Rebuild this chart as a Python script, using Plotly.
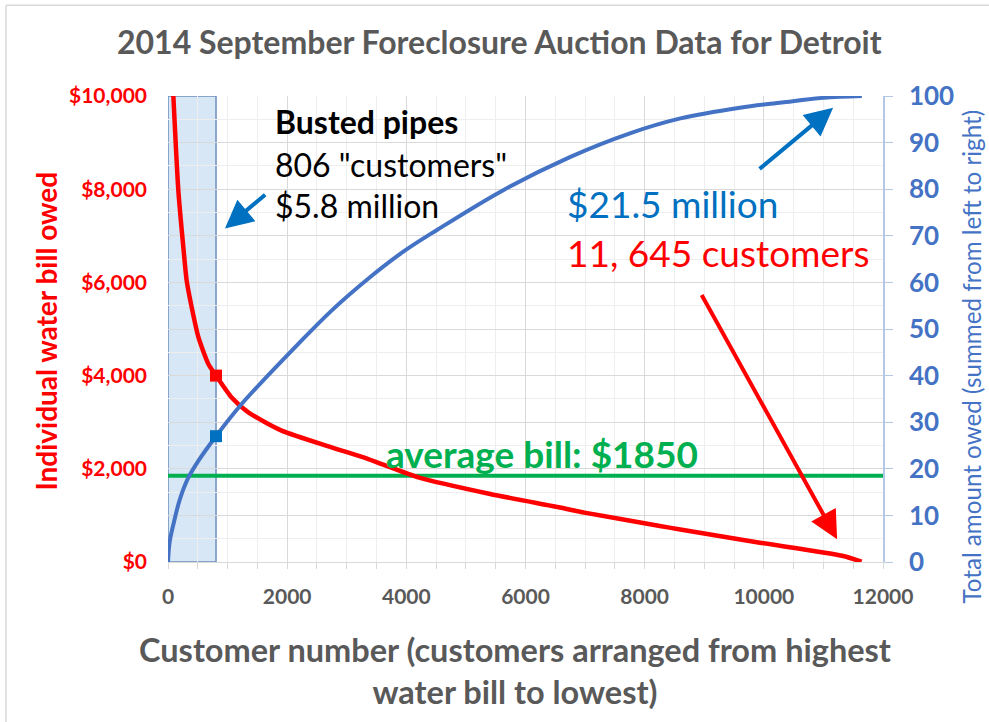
import plotly.graph_objects as go

# ---- data ----
bill_x = [90, 173, 257, 313, 397, 509, 677, 806, 1068, 1348, 1907, 2746, 3361, 4218,
          5406, 6577, 6988, 8255, 8572, 9933, 11331, 11640]
bill_y = [10000, 7980, 6760, 6040, 5470, 4830, 4250, 4000, 3530, 3210, 2820, 2460, 2210, 1810,
          1460, 1170, 1060, 774, 703, 415, 130, 6]

cum_x = [0, 30, 104, 200, 341, 509, 806, 1236, 2187, 2750, 3389, 3950, 4508, 5626, 6745, 7752,
         8600, 9597, 10300, 10995, 11645]
cum_y = [0, 4.5, 8.8, 13.5, 18.1, 21.7, 27.0, 33.9, 46.8, 54.0, 61.1, 66.6, 71.2, 79.8, 86.9, 92.0,
         95.2, 97.5, 98.6, 99.6, 100]

busted_n = [806]
busted_bill = [4000]
busted_cum = [27]
avg_bill = [1850, 1850]
avg_x = [0, 12000]

x_ticks = [0, 2000, 4000, 6000, 8000, 10000, 12000]
y_ticks = [0, 2000, 4000, 6000, 8000, 10000]
y_tick_labels = ["$0", "$2,000", "$4,000", "$6,000", "$8,000", "$10,000"]
y2_ticks = [0, 10, 20, 30, 40, 50, 60, 70, 80, 90, 100]

FONT = "Lato, 'Open Sans', sans-serif"
RED = "#ff0000"
BLUE = "#4472c4"
DBLUE = "#0070c0"
GREEN = "#00b050"
GRAY = "#595959"

fig = go.Figure()

# shaded "busted pipes" region
fig.add_shape(type="rect", xref="x", yref="y", x0=0, x1=busted_n[0], y0=0, y1=10000,
              fillcolor="rgba(189,215,238,0.6)", line=dict(color="#6d8fbd", width=1.5), layer="below")

fig.add_trace(go.Scatter(x=avg_x, y=avg_bill, mode="lines", line=dict(color=GREEN, width=4),
                         hoverinfo="skip", showlegend=False))
fig.add_trace(go.Scatter(x=cum_x, y=cum_y, yaxis="y2", mode="lines",
                         line=dict(color=BLUE, width=4, shape="spline", smoothing=1.0),
                         showlegend=False))
fig.add_trace(go.Scatter(x=bill_x, y=bill_y, mode="lines",
                         line=dict(color=RED, width=4.5, shape="spline", smoothing=0.6),
                         showlegend=False))
fig.add_trace(go.Scatter(x=busted_n, y=busted_bill, mode="markers",
                         marker=dict(symbol="square", size=12, color=RED), showlegend=False))
fig.add_trace(go.Scatter(x=busted_n, y=busted_cum, yaxis="y2", mode="markers",
                         marker=dict(symbol="square", size=12, color=DBLUE), showlegend=False))

annotations = [
    dict(text="<b>Busted pipes</b>", x=1760, y=9462, xref="x", yref="y", xanchor="left", yanchor="middle",
         showarrow=False, font=dict(family=FONT, size=32, color="black")),
    dict(text='806 "customers"', x=1760, y=8538, xref="x", yref="y", xanchor="left", yanchor="middle",
         showarrow=False, font=dict(family=FONT, size=32, color="black")),
    dict(text="$5.8 million", x=1760, y=7656, xref="x", yref="y", xanchor="left", yanchor="middle",
         showarrow=False, font=dict(family=FONT, size=32, color="black")),
    dict(text="$21.5 million", x=6660, y=7699, xref="x", yref="y", xanchor="left", yanchor="middle",
         showarrow=False, font=dict(family=FONT, size=37, color=DBLUE)),
    dict(text="11, 645 customers", x=6660, y=6645, xref="x", yref="y", xanchor="left", yanchor="middle",
         showarrow=False, font=dict(family=FONT, size=37, color=RED)),
    dict(text="<b>average bill: $1850</b>", x=6275, y=2323, xref="x", yref="y", xanchor="center", yanchor="middle",
         showarrow=False, font=dict(family=FONT, size=37, color=GREEN)),
    # arrows
    dict(text="", x=956, y=7155, ax=1656, ay=7908, xref="x", yref="y", axref="x", ayref="y",
         showarrow=True, arrowhead=2, arrowsize=1.4, arrowwidth=4, arrowcolor=DBLUE, standoff=0),
    dict(text="", x=11163, y=9748, ax=9904, ay=8409, xref="x", yref="y", axref="x", ayref="y",
         showarrow=True, arrowhead=2, arrowsize=1.4, arrowwidth=4, arrowcolor=DBLUE, standoff=0),
    dict(text="", x=11230, y=488, ax=8943, ay=5763, xref="x", yref="y", axref="x", ayref="y",
         showarrow=True, arrowhead=2, arrowsize=1.4, arrowwidth=4, arrowcolor=RED, standoff=0),
    # titles
    dict(text="<b>2014 September Foreclosure Auction Data for Detroit</b>", x=0.464, y=1.116,
         xref="paper", yref="paper", xanchor="center", yanchor="middle", showarrow=False,
         font=dict(family=FONT, size=32, color=GRAY)),
    dict(text="<b>Customer number (customers arranged from highest<br>water bill to lowest)</b>",
         x=0.485, y=-0.232, xref="paper", yref="paper", xanchor="center", yanchor="middle", showarrow=False,
         font=dict(family=FONT, size=32.5, color=GRAY)),
    dict(text="<b>Individual water bill owed</b>", x=-0.171, y=0.496, xref="paper", yref="paper",
         xanchor="center", yanchor="middle", textangle=-90, showarrow=False,
         font=dict(family=FONT, size=28, color=RED)),
    dict(text="Total amount owed (summed from left to right)", x=1.124, y=0.44, xref="paper", yref="paper",
         xanchor="center", yanchor="middle", textangle=-90, showarrow=False,
         font=dict(family=FONT, size=24.2, color=BLUE)),
]

# faint chart-area border (top and left edges visible in the reference)
fig.add_shape(type="line", xref="paper", yref="paper", x0=-0.2266, x1=1.2, y0=1.195, y1=1.195,
              line=dict(color="#d9d9d9", width=1.5))
fig.add_shape(type="line", xref="paper", yref="paper", x0=-0.2266, x1=-0.2266, y0=-0.4, y1=1.195,
              line=dict(color="#d9d9d9", width=1.5))

fig.update_layout(
    width=989, height=722,
    margin=dict(l=168, r=106, t=96, b=160),
    paper_bgcolor="white", plot_bgcolor="white",
    showlegend=False,
    annotations=annotations,
    xaxis=dict(range=[0, 12000], tickvals=x_ticks, ticktext=[f"<b>{t}</b>" for t in x_ticks],
               showgrid=True, gridcolor="#d9d9d9", gridwidth=1,
               zeroline=False, showline=True, linecolor="#d9d9d9", linewidth=1,
               ticks="", tickfont=dict(family=FONT, size=21, color=GRAY), ticklabelstandoff=16,
               minor=dict(dtick=500, showgrid=True, gridcolor="#eeeeee", ticks="outside", ticklen=6,
                          tickcolor="#d9d9d9")),
    yaxis=dict(range=[0, 10000], tickvals=y_ticks, ticktext=[f"<b>{t}</b>" for t in y_tick_labels],
               showgrid=True, gridcolor="#d9d9d9", zeroline=False, showline=False,
               tickfont=dict(family=FONT, size=21, color=RED), ticklabelstandoff=20,
               minor=dict(dtick=500, showgrid=True, gridcolor="#eeeeee")),
    yaxis2=dict(range=[0, 100], tickvals=y2_ticks, ticktext=[f"<b>{t}</b>" for t in y2_ticks],
                overlaying="y", side="right",
                showgrid=True, gridcolor="#d9d9d9", zeroline=False, showline=True,
                linecolor="#b4c7e7", linewidth=1.5, ticks="outside", ticklen=8, tickcolor="#b4c7e7",
                tickfont=dict(family=FONT, size=26, color=BLUE), ticklabelstandoff=11),
)

fig.write_html("out.html", config={"displayModeBar": False},
               post_script="document.body.style.margin='0px';document.body.style.overflow='hidden';")
